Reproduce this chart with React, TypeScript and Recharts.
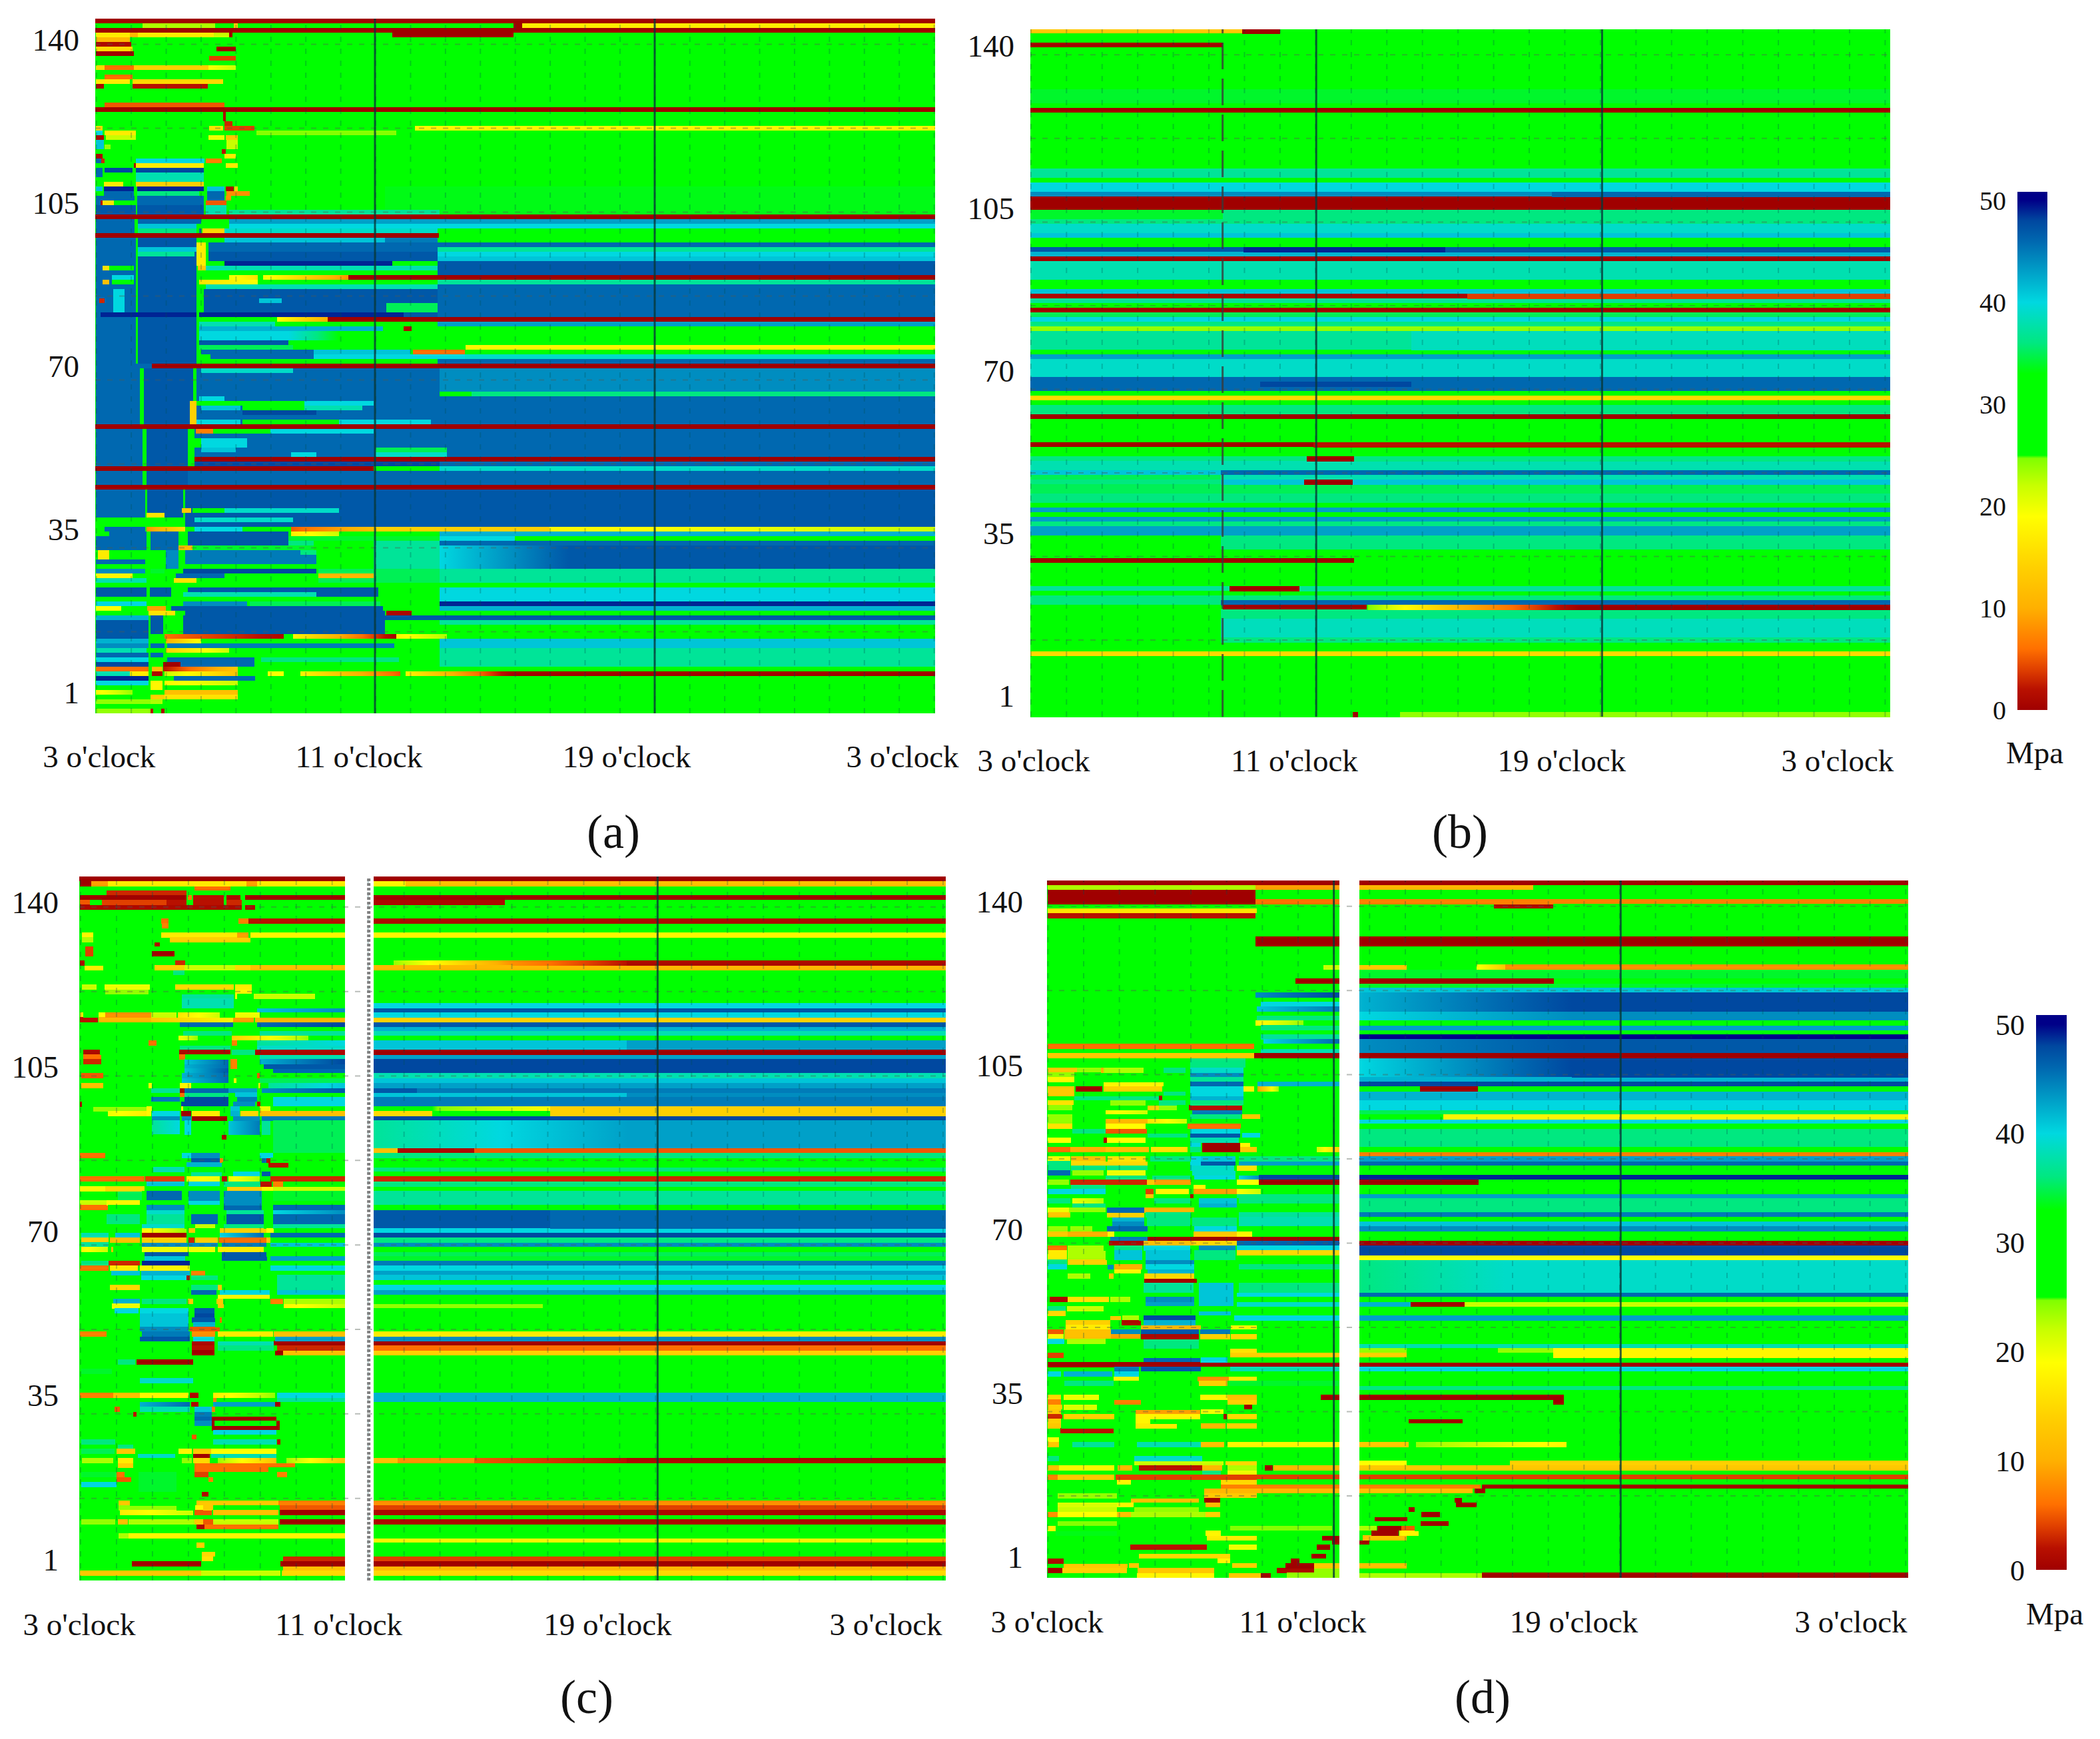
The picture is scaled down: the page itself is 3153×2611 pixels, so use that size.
import { Bar, BarChart, ReferenceLine, XAxis, YAxis } from "recharts";

// one strip: first row (from top), last row, circumferential start, end, stress in MPa, optional stress at the end
type Strip = [number, number, number, number, number, number?];

const FONT = "'Liberation Serif', serif";
const yTickValues = [0, 35, 70, 105, 140];
const clockLabels = ["3 o'clock", "11 o'clock", "19 o'clock", "3 o'clock"];
const barTicks = [0, 10, 20, 30, 40, 50];

const colorStops: [number, string][] = [
  [0, "#a00000"], [2, "#b81000"], [4, "#e04000"], [6, "#ff7000"], [10, "#ffb000"], [14, "#ffd000"],
  [19, "#ffff00"], [22, "#c8ff00"], [24.7, "#80ff00"], [25, "#00ff00"], [33, "#00ff00"], [36, "#00e880"],
  [40, "#00d8e0"], [43, "#00a0c8"], [46, "#0068b0"], [48, "#0048a0"], [50, "#000088"],
];

const panelABands: Strip[] = [
  [0,148,38,3695,29],[0,0,38,3695,0],[1,1,1860,1897,0],[1,1,1897,3695,17],[2,2,38,3695,0],[3,3,1330,1860,0],
  [19,19,38,3695,0],[23,23,1430,3695,18],[24,24,740,1350,24.5],[36,41,1300,3695,33.5],[41,41,620,1537,37],
  [42,42,38,3695,0],[43,43,620,3695,43],[44,44,620,3695,40],[45,45,600,1530,39],[46,46,38,1535,0],
  [47,47,600,1300,41],[47,47,1300,1530,45],[48,48,530,3695,46],[49,49,530,1530,46],[49,49,1530,3695,37],
  [50,50,530,1530,47],[50,50,1530,3695,40],[51,51,530,1530,47],[51,51,1530,3695,41],[52,52,600,1330,49],
  [52,52,1330,1530,30],[52,54,1530,3695,47],[53,53,520,1530,38],[55,55,620,745,20,16],[55,55,770,1140,20,8],
  [55,55,1140,3695,0],[56,56,485,745,16,19],[56,56,1530,3695,37],[57,57,520,1530,38],[57,63,1530,3695,46],
  [58,63,510,1530,47],[60,60,750,850,41],[61,62,1305,1530,35],[63,63,60,1380,49],[64,64,320,470,37],
  [64,64,490,830,30],[64,64,830,1050,19,10],[64,64,1050,3695,0],[65,65,490,820,38],[65,65,1530,3695,43],
  [66,66,490,1290,42],[66,66,1380,1415,1],[67,68,490,880,40],[67,68,880,1100,40,33],[69,69,490,880,47],
  [70,70,490,900,35],[70,70,1649,3695,18],[71,71,500,990,46],[71,71,990,1410,41],[71,71,1420,1647,6],
  [72,72,540,990,46],[72,72,990,1647,40],[72,72,1647,3695,39],[73,73,1530,3695,46],[74,74,285,3695,0],
  [75,79,480,1537,46],[75,75,500,900,39],[75,79,1537,3695,44],[80,80,480,1537,46],[80,80,1677,3695,36],
  [81,86,480,3695,46],[81,81,490,600,40],[82,82,480,950,30],[82,82,950,1250,40],[83,83,500,670,41],
  [83,83,680,950,30],[83,83,950,1200,38],[84,84,680,1000,48],[86,86,480,670,40],[86,86,680,1100,31],
  [86,86,1100,1500,40],[87,87,38,3695,0],[88,93,470,3695,46],[88,88,475,550,7],[88,88,550,800,30],
  [88,88,800,1250,40],[90,91,470,500,30],[90,91,500,700,40],[92,92,500,650,41],[92,92,1260,1568,35],
  [93,93,890,1000,40],[93,93,1260,1568,39],[94,94,470,3695,0],[95,95,470,1537,48],[95,95,1537,3695,46],
  [96,96,38,1250,0],[96,96,1260,1537,30],[96,96,1537,3695,39],[97,99,430,3695,46],[100,100,38,3695,0],
  [101,108,430,3695,47],[105,105,460,600,30],[105,105,600,1100,39],[107,107,470,900,39],
  [109,109,440,470,30],[109,109,470,680,40],[109,109,690,890,32],[109,109,890,1250,5,12],[109,109,1250,2015,14],
  [109,109,2015,3695,18,22],[110,110,440,880,47],[110,110,890,1100,17,22],[110,110,1100,1537,30],
  [110,110,1537,3695,42],[111,111,440,880,47],[111,111,880,1537,34],[111,111,1537,1865,40],
  [112,112,440,880,47],[112,112,880,990,36],[112,117,1250,1537,37],[112,112,1537,3695,46],
  [113,117,1537,2100,40,47],[113,117,2100,3695,47],[113,113,400,460,11],[113,113,470,990,34],
  [114,116,430,1000,45],[114,114,930,1000,36],[118,118,420,1000,48],[118,120,1010,1537,35],[118,120,1537,3695,37],
  [119,119,390,600,46],[119,119,1010,1250,11],[120,120,380,480,16],[121,121,1537,3695,31],[122,124,1537,3695,40],
  [122,123,440,1270,47],[123,123,420,1000,38],[125,125,420,700,44],[125,125,710,1280,35],[125,125,1537,3695,49],
  [126,126,370,1290,47],[126,126,1537,3695,42],[127,127,430,1300,47],[127,127,1305,1415,1],[127,127,1537,3695,32],
  [128,128,420,3695,47],[129,131,420,1300,47],[129,129,1537,3695,37],[130,130,1305,1537,31],
  [132,132,340,860,6,1],[132,132,900,1350,18,0],[132,132,1350,1568,18,23],[133,133,345,500,10,20],
  [133,134,1537,3695,41],[134,134,350,1340,45],[135,135,345,620,14,22],[135,138,1537,3695,37],
  [137,137,350,730,46],[137,137,760,1360,36],[138,138,410,730,46],[139,139,335,660,2,13],
  [140,140,340,660,22,12],[140,140,790,860,19],[140,140,930,1365,18,5],[140,140,1390,1860,18,0],[140,140,1860,3695,0],
  [141,141,380,735,46],[142,142,340,660,18,22],[144,144,340,660,12],[145,145,280,660,16],
];

const panelALeft: Strip[] = [
  [1,1,245,560,23],[1,1,640,660,14],[3,3,40,555,17],[3,3,190,225,11],[3,3,555,620,22],[3,3,620,635,0],
  [4,4,40,190,11],[5,5,40,195,1],[6,6,40,200,15],[6,6,565,650,0],[7,7,40,205,0],[8,8,535,650,4],
  [10,10,40,80,15],[10,10,80,205,6],[10,10,205,530,14],[10,10,530,650,19,22],[12,12,80,200,6],
  [13,13,40,190,17],[13,13,200,595,15],[14,14,40,75,1],[14,14,200,528,2],[18,18,80,600,5],
  [20,21,594,605,1],[22,22,600,635,3],[23,23,40,70,15],[23,23,535,595,16],[23,23,600,730,4],
  [24,24,40,70,40],[24,24,80,215,17],[25,25,40,75,1],[25,25,85,215,22],[25,25,530,600,20],[25,25,605,660,13],
  [26,27,40,75,41],[26,27,610,660,22],[27,27,80,105,24],[28,28,590,605,2],[29,29,40,70,1],[29,29,600,650,17],
  [30,30,40,65,46],[30,30,65,80,3],[30,30,215,515,40],[30,30,520,590,7],[31,31,215,510,17],[31,31,205,215,1],
  [31,31,605,660,17],[32,32,80,200,48],[32,32,215,510,48],[32,33,40,70,46],[33,34,215,510,38],[34,34,80,205,31],
  [35,35,75,160,17],[35,35,215,510,14],[36,36,40,70,41],[36,36,75,205,49],[36,36,220,510,49],[36,36,525,600,41],
  [36,36,605,640,1],[36,36,645,660,15],[37,37,75,205,46],[37,37,220,490,36],[37,37,525,600,46],[37,37,610,710,8],
  [38,38,40,210,46],[38,38,220,510,46],[38,38,525,600,46],[38,38,605,630,8],[39,39,40,70,46],[39,39,60,70,2],
  [39,39,70,120,16],[39,39,220,510,46],[39,39,520,610,5],[40,41,40,215,47],[40,41,220,510,47],[40,41,520,610,38],
  [43,45,40,210,46],[43,43,225,500,46],[43,43,530,600,30],[44,44,225,480,41],[45,45,225,480,36],[45,45,490,500,46],
  [45,45,505,600,15],
  [47,73,40,215,46],[47,73,225,480,47],[48,52,480,520,17],[49,49,225,480,41],[50,50,225,470,37],
  [53,53,70,100,16],[53,53,100,205,30],[53,53,485,520,13],[55,55,110,205,40],[56,56,110,205,30],[56,56,70,100,12],
  [58,63,115,165,40],[60,60,55,80,3],[55,63,480,490,25],[63,63,60,480,49],
  [74,74,40,285,46],[75,87,40,232,46],[75,87,250,465,47],[74,74,285,470,0],[87,87,38,470,0],
  [88,99,40,245,46],[88,99,262,440,47],[82,86,450,478,14],[94,94,40,245,46],[94,94,262,440,47],[96,96,38,470,0],
  [100,100,38,470,0],[101,106,40,255,46],[101,106,265,420,47],[105,105,415,455,13],[106,106,260,340,16],
  [107,107,280,400,30],[108,108,40,160,32],[108,108,275,400,30],[109,109,40,80,30],[109,109,80,255,46],
  [109,109,260,430,8,16],[110,112,100,260,46],[110,110,40,80,30],[110,113,280,400,46],[111,112,40,100,46],
  [113,113,40,260,46],[113,113,400,460,11],[114,115,50,100,17],[114,117,100,255,30],[114,117,280,340,32],
  [114,117,345,400,44],[116,116,40,255,46],[118,118,40,255,44],[118,118,280,340,34],[119,119,40,200,18],[119,119,200,260,30],
  [120,120,40,260,38],[122,123,40,260,47],[122,123,275,370,47],[125,125,40,260,40],[126,126,40,150,19],[126,126,265,345,9],
  [127,127,270,385,16],[128,128,40,270,42],[128,131,280,335,47],[129,131,40,270,47],[132,132,40,270,47],[132,132,280,340,30],
  [133,133,40,270,42],[134,134,40,270,44],[134,134,280,340,46],[135,135,40,260,38],[136,136,40,270,46],[136,136,280,335,46],
  [137,137,40,270,40],[137,137,280,335,32],[138,138,40,270,48],[138,138,335,410,0],[139,139,40,270,6],[139,139,285,330,12],
  [140,140,40,190,38],[140,140,190,270,17],[140,140,285,330,1],[141,141,40,270,49],[142,142,40,270,40],[142,143,280,330,18],
  [144,144,40,200,18,24],[145,145,280,340,14],[146,146,40,280,24],[146,146,280,330,23],[148,148,40,280,24],[148,148,280,290,2],[148,148,325,340,1],
];

const panelBBands: Strip[] = [
  [0,147,20,1554,29],[0,0,20,398,13],[0,0,398,465,0],[3,3,20,363,0],[13,15,20,1554,34],[17,17,20,1554,0],
  [30,31,20,1554,37],[32,32,20,1554,33],[33,34,20,1554,40],[35,35,20,1554,44],[35,35,950,1554,46],[36,38,20,1554,0],
  [39,40,20,363,34],[39,40,363,1554,36],[41,41,20,1554,36],[42,43,20,1554,39],[44,44,20,1554,41],[45,45,20,1554,33],
  [47,47,20,1554,47],[47,47,400,760,49],[48,48,20,1554,42],[49,49,20,1554,0],[50,53,20,1554,38],[54,55,20,1554,32],
  [56,56,20,1554,41],[57,57,20,800,1],[57,57,800,1554,4],[58,58,20,1554,37],[59,59,20,1554,31],[60,60,20,1554,0],
  [61,61,20,1554,35],[62,62,20,1554,40],[63,63,20,1554,36],[64,64,20,1554,24],[65,68,20,700,37],[65,68,700,1554,38.5],
  [69,69,20,1554,33],[70,70,20,1554,43],[71,74,20,1554,39],[75,77,20,1554,46],[76,76,430,700,48],[78,78,20,1554,30],
  [79,79,20,1554,15],[80,80,20,1554,33],[81,82,20,1554,36],[83,83,20,1554,0],[85,88,20,1554,31],[89,89,20,525,0],
  [89,89,525,1554,2],[90,91,20,1554,30],[92,92,20,1554,36],[92,92,513,598,0],[93,94,20,1554,38],[95,95,20,360,41],
  [95,95,360,1554,46],[96,96,20,360,35],[96,96,360,1554,38],[97,97,20,360,36],[97,97,360,1554,41],[97,97,508,595,0],
  [98,99,20,1554,35],[100,101,20,1554,36],[103,103,20,1554,43],[104,104,20,1554,33],[105,105,20,1554,43],[106,106,20,1554,36],
  [107,108,20,1554,43],[109,111,20,360,33],[109,111,360,1554,36],[112,112,20,1554,33],[114,114,20,598,0],[116,117,20,1554,33],
  [120,120,20,1554,37],[120,120,375,500,0],[122,122,20,1554,36],[123,123,20,360,36],[123,123,360,1554,46],
  [124,124,20,363,30],[124,124,363,620,0],[124,124,620,700,25,18],[124,124,700,800,18,10],[124,124,800,1000,10,0],[124,124,1000,1554,0],
  [125,132,20,360,33],[125,132,360,1554,36],[127,130,360,1554,38.5],[132,132,20,1554,32],[134,134,20,1554,15],
  [147,147,680,1554,24],[147,147,595,605,0],
];

const panelCBands: Strip[] = [
  [0,149,27,3933,29],[0,0,1353,3933,0],[1,1,1353,1497,18],[1,1,1497,3933,12],[4,4,1353,3933,0],[5,5,1353,1944,1],
  [9,9,1353,3933,1],[12,12,1353,3933,18],[18,18,1445,1634,24,18],[18,18,1634,1979,18,8],[18,18,1979,2495,8,2],[18,18,2495,3933,1],
  [19,19,1353,3933,11],[21,21,1353,3933,33],[27,27,1353,3933,40],[28,28,1353,3933,47],[29,29,1353,3933,40],[30,30,1353,3933,14],
  [31,31,1353,3933,47],[32,32,1353,3933,42],[33,33,1353,3933,38],[34,34,1353,3933,31],[35,36,1353,2495,41],[35,36,2495,3933,43],
  [37,37,1353,3933,0],[38,38,1353,3933,43],[39,41,1353,3933,48],[42,42,1353,3933,38],[43,43,1353,3933,41],[44,44,1353,3933,43],
  [45,45,1353,3933,45],[45,45,1353,1548,47],[46,46,1353,2495,41],[46,46,2495,3933,44],[47,48,1353,3933,45],[49,49,1617,2151,25,19],
  [49,50,2151,3933,14],[50,50,1353,1617,15],[51,51,1353,3933,48],[52,57,1353,2500,37,43],[52,57,2500,3933,43],
  [58,58,1353,1462,12],[58,58,1462,1807,1],[58,58,1807,3933,5],[59,59,1353,3933,36],[60,61,1353,3933,33],[62,62,1353,3933,36],
  [64,64,1353,3933,3],[65,65,1353,3933,36],[67,69,1353,3933,37],[71,74,1353,3933,46],[71,74,1353,2151,47],[75,75,1353,3933,40],
  [76,76,1353,3933,48],[77,77,1353,3933,36],[78,78,1353,3933,44],[80,80,1353,3933,35],[81,81,1353,3933,34],[82,82,1353,3933,45],
  [83,83,1353,3933,40],[84,84,1353,3933,43],[85,85,1353,3933,41],[87,87,1353,3933,40],[88,88,1353,3933,43],[89,96,1353,3933,31],
  [91,91,1353,2117,24],[97,97,1353,3933,17],[98,98,1353,3933,44],[99,99,1353,3933,0],[100,100,1353,3933,6],[101,101,1353,3933,14],
  [110,111,1353,3933,42],[124,124,1353,1462,12],[124,124,1462,1807,8],[124,124,1807,2495,5,2],[124,124,2495,3933,1],
  [133,133,1353,3933,8],[134,134,1353,3933,4],[135,135,1353,3933,1],[137,137,1353,3933,1],[141,141,1353,3933,18],
  [145,145,1353,3933,4],[146,146,1353,3933,0],[147,147,1353,3933,11],[148,148,1353,3933,15],
];

const panelCLeft: Strip[] = [
  [0,0,27,1224,0],[1,1,30,80,0],[1,1,80,155,9],[1,1,155,1224,17],[1,1,780,830,9],[2,2,545,710,6],[3,3,150,510,3],
  [4,4,30,510,0],[4,4,515,535,7],[4,4,540,680,2],[4,4,690,755,1],[4,4,775,1224,0],[5,5,30,75,5],[5,5,130,420,4],[5,5,420,510,2],
  [5,5,540,680,2],[5,5,690,760,3],[6,6,30,760,1],[6,6,775,820,1],[9,9,395,430,6],[9,9,745,790,7],[9,9,790,1224,2],[10,10,400,430,7],
  [12,12,40,90,18],[12,12,395,740,17],[12,12,740,790,9],[12,12,800,1224,18],[13,13,40,90,23],[13,13,435,800,14],[14,14,365,390,1],
  [15,16,55,90,4],[16,16,355,455,0],[18,18,30,50,1],[18,18,460,505,3],[19,19,50,135,17],[19,19,365,500,14],[19,19,500,730,22],
  [19,19,730,800,15],[19,19,800,1224,12],[20,20,450,500,36],[23,23,40,105,22],[23,23,140,345,20],[23,23,460,725,15],[23,23,730,805,17],
  [24,24,145,340,24],[24,24,730,805,18],[25,25,490,725,37],[25,25,730,740,18],[25,25,815,1090,22],[26,27,490,725,38],[28,28,830,1224,41,44],
  [29,29,30,45,17],[29,29,115,145,19],[29,29,145,350,8],[29,29,350,465,22],[29,29,470,660,16,22],[29,29,730,840,20],
  [30,30,30,110,2],[30,30,115,350,11],[30,30,350,720,13,18],[30,30,720,815,9],[30,30,820,1224,11],[31,31,480,720,46],[31,31,830,1224,46,48],
  [33,33,495,715,36],[33,33,840,1224,37],[34,34,475,560,19,24],[34,34,715,1060,14,24],[35,35,340,375,6],[35,35,715,740,7],[35,35,830,1224,37,40],
  [36,36,480,710,36],[36,36,830,1224,39],[37,37,45,120,1],[37,37,478,708,1],[37,37,715,820,36],[37,37,820,1224,1],[38,38,45,125,6],[38,38,478,505,6],
  [38,38,840,1224,38],[39,39,45,125,3],[39,39,500,700,41,46],[39,39,710,740,7],[39,39,840,1224,42,48],[40,40,500,700,42,46],[40,40,710,740,7],
  [40,40,860,1224,47],[41,41,500,700,41,47],[41,41,900,1224,46],[42,42,35,135,5],[42,42,490,700,42,46],[42,42,830,850,5],[42,42,840,1224,33],
  [43,43,490,700,41,46],[43,43,725,735,18],[43,43,840,1224,35],[44,44,35,135,12],[44,44,340,355,18],[44,44,480,530,18],[44,44,835,845,18],
  [44,44,880,1224,37,41],[45,45,350,480,37],[45,45,480,500,1],[45,45,500,700,46],[45,45,700,830,43],[45,45,850,1224,44,47],
  [46,46,480,500,6],[46,46,500,700,36],[46,46,730,830,41],[47,47,350,480,45],[47,47,500,700,48],[47,47,740,830,45],[47,47,900,1224,40],
  [48,48,30,40,1],[48,48,485,700,48],[48,48,720,820,44],[48,48,830,845,2],[48,48,900,1224,40],[49,49,90,330,24],[49,49,330,355,18],
  [49,49,485,495,18],[49,49,710,750,41],[49,49,840,890,20],[50,50,155,330,20,17],[50,50,330,350,18],[50,50,355,480,40],[50,50,485,530,0],
  [50,50,535,660,17],[50,50,710,750,42],[50,50,755,835,15],[50,50,840,1224,12],[51,51,355,480,44],[51,51,490,530,44],[51,51,535,695,0],
  [51,51,720,840,44],[51,51,850,1224,45],[52,54,355,480,37,40],[52,54,500,530,40],[52,54,700,840,41,45],[52,54,850,890,37],[52,58,900,1224,35],
  [55,55,670,690,1],[55,58,360,490,33],[59,59,30,145,6],[59,59,490,530,40],[59,59,530,660,44],[59,59,840,900,40],[60,60,530,660,47],
  [60,60,660,675,7],[60,60,850,870,46],[60,60,870,890,2],[61,61,510,670,42],[61,61,880,970,2],[62,62,360,500,38],[63,63,530,670,37],
  [63,63,720,840,40],[63,63,850,890,47],[64,64,30,320,6],[64,64,325,500,4],[64,64,510,660,18,20],[64,64,670,695,2],[64,64,700,840,18,23],
  [64,64,890,1224,3],[65,65,330,500,41],[65,65,520,660,40],[65,65,680,845,36],[65,65,845,895,2],[65,65,900,945,7],[66,66,30,145,18],
  [66,66,145,320,15],[66,66,695,850,14],[66,66,850,900,18],[66,66,900,1224,22],[67,68,330,490,46],[67,68,520,660,44],[67,68,680,850,44],
  [67,68,200,310,35],[67,68,900,1224,34],[69,69,30,150,22],[69,69,150,300,18],[69,69,520,660,40],[69,69,680,850,44],[70,70,30,155,6],
  [70,70,330,500,44],[70,70,680,850,46],[70,70,900,1224,46],[71,71,330,500,39],[71,71,690,860,37],[71,71,900,1224,40,44],
  [72,73,150,300,36],[72,73,330,500,37],[72,73,530,650,46],[72,73,690,860,47],[72,73,900,1224,46],[74,74,310,500,39],[74,74,550,640,22],
  [74,74,680,860,36],[74,74,900,1224,37],[75,75,310,510,18,24],[75,75,520,550,13],[75,75,660,870,14],[75,75,870,905,19],
  [76,76,35,160,38],[76,76,190,300,41],[76,76,310,510,0],[76,76,660,860,40,46],[76,76,890,1224,46],[77,77,35,160,14],[77,77,165,300,12],
  [77,77,310,510,14],[77,77,520,545,3],[77,77,550,650,14],[77,77,655,870,6],[77,77,870,890,13],[78,78,35,160,37],[78,78,310,515,44],
  [78,78,520,650,44],[78,78,670,870,45],[78,78,890,1224,41],[79,79,35,155,18,22],[79,79,170,180,12],[79,79,310,515,20],[79,79,520,640,20],
  [79,79,650,860,17],[80,80,320,520,47],[80,80,670,870,47],[81,81,320,505,41],[81,81,670,875,47],[81,81,890,1224,43],[82,82,35,160,36],
  [82,82,160,300,3],[82,82,310,525,49],[83,83,30,160,6],[83,83,165,290,17],[83,83,300,525,18],[83,83,890,1224,40],[84,84,170,300,41],
  [84,84,305,525,42],[84,84,530,595,7],[85,85,305,510,40],[85,85,510,525,2],[85,85,530,650,36],[85,85,1075,1125,1],[85,87,920,1224,37],
  [87,87,165,300,15],[87,87,530,650,36],[87,87,650,670,13],[88,88,530,645,46],[88,88,660,885,40],[88,88,920,1224,41],[89,89,650,885,18],
  [90,90,180,300,42],[90,90,310,510,36],[90,90,515,540,13],[90,90,645,675,13],[90,90,890,945,7],[90,90,950,1224,23],[91,91,175,300,20],
  [91,91,950,1224,18,22],[91,91,650,680,13],[92,92,185,295,40],[92,92,300,520,40],[92,92,545,635,47],[93,93,300,520,41],[93,93,545,635,48],
  [94,94,300,520,41],[94,94,535,640,47],[94,94,660,670,6],[95,95,300,520,41],[95,95,540,640,42],[96,96,300,520,44],[96,96,525,660,5],
  [97,97,30,150,7],[97,97,310,525,45],[97,97,535,640,8],[97,97,650,900,17],[97,97,905,1224,12],[98,98,300,525,47],[98,98,540,635,40],
  [98,98,910,1224,43],[99,99,535,635,1],[99,99,650,905,38],[99,99,905,1224,0],[100,100,535,635,2],[100,100,650,905,36],[100,100,920,1224,3],
  [101,101,535,635,0],[101,101,910,945,0],[101,101,945,1224,12],[103,103,200,280,36],[103,103,285,540,0],[105,105,35,175,34],[107,107,300,540,39],
  [110,110,30,180,7],[110,110,180,300,12],[110,110,300,520,18],[110,110,525,565,1],[110,110,630,910,17,24],[110,110,920,1224,40],
  [111,111,630,645,7],[111,111,920,1224,37],[112,112,300,525,42,46],[112,112,530,565,1],[112,112,630,910,43],[112,112,910,935,0],
  [113,113,185,210,5],[113,113,300,525,38],[113,113,545,625,41],[113,113,625,640,7],[114,114,545,625,45],[114,114,270,285,2],
  [115,115,625,915,0],[115,115,545,625,46],[116,116,545,625,44],[116,116,625,635,0],[116,116,915,930,0],[117,117,625,930,0],
  [118,118,630,915,40],[119,119,535,555,5],[120,120,35,190,36],[120,120,300,470,33],[120,120,630,915,38],[120,120,920,935,2],[121,121,200,270,36],
  [122,122,35,185,35],[122,122,195,280,13],[122,122,475,535,18],[122,122,540,620,13],[122,122,620,915,19],[123,123,290,460,39],[123,123,540,615,0],
  [123,123,620,915,38],[124,124,40,180,23],[124,124,200,270,17],[124,124,490,535,24],[124,124,540,615,15],[124,124,650,915,24,12],[124,124,960,1224,24,12],
  [125,125,200,270,14],[125,125,545,1000,6],[126,126,295,465,33],[126,126,545,880,6],[127,127,545,610,4],[127,127,920,965,7],[127,127,35,195,34],
  [127,127,195,230,6],[127,130,295,465,34],[128,128,195,260,5],[128,128,610,630,7],[129,129,35,195,40],[131,131,580,610,1],
  [133,133,205,255,13],[133,133,555,925,13],[133,133,925,1224,7],[134,134,205,465,24],[134,134,550,585,18],[134,134,585,630,13],[134,134,930,1224,5],
  [135,135,210,540,17,22],[135,135,545,625,5],[135,135,630,925,12],[135,135,930,1224,0],[137,137,35,190,24],[137,137,200,245,12],[137,137,250,545,23],
  [137,137,545,585,13],[137,137,585,630,5],[137,137,630,925,22],[137,137,932,1224,0],[138,138,555,590,1],[138,138,590,925,6],[140,140,205,250,23],
  [140,140,250,1224,18],[142,142,555,590,14],[144,144,580,640,15],[145,145,580,630,16],[145,145,945,1224,3],[146,146,265,575,0],[146,146,935,1224,0],
  [147,147,945,1224,12],[148,148,30,575,13],[148,148,575,935,22],[148,148,940,1224,15],[0,149,1224,1353,-1],
];

const panelDBands: Strip[] = [
  [0,148,36,3915,29],[0,0,1443,3915,0],[1,1,1443,2225,11],[1,1,2225,3915,33],[4,4,1443,3915,7],[5,5,2049,2315,1],[12,13,1443,3915,0],
  [18,18,1443,1657,13],[18,18,1970,2100,20,13],[18,18,2100,3915,8],[19,20,1443,3915,34],[21,21,1443,2319,0],[22,22,1443,3915,34],[23,23,1443,3915,41],
  [24,29,1443,2400,42,48],[24,29,2400,3915,48],[28,29,1443,2400,40,44],[28,29,2400,3915,44],[30,30,1443,3915,30],[31,31,1443,3915,43],[32,32,1443,3915,33],[33,33,1443,3915,50],
  [34,36,1443,2400,44,47],[34,36,2400,3915,47],[37,37,1443,3915,0],[38,41,1443,2400,40,48],[38,41,2400,3915,48],[42,42,1443,3915,42],[43,43,1443,3915,48],
  [44,44,1715,1978,0],[45,46,1443,3915,42],[47,48,1443,3915,40],[49,49,1443,3915,35],[50,50,1820,3915,18],[51,51,1443,3915,40],[53,56,1443,3915,36],
  [58,58,1443,3915,7],[59,59,1443,3915,43],[60,60,1443,3915,46],[61,62,1443,3915,33],[63,63,1443,3915,49],[64,64,1443,1981,0],[67,67,1443,3915,43],
  [68,70,1443,3915,36],[71,71,1443,3915,45],[73,73,1443,3915,41],[74,74,1443,3915,44],[77,77,1443,3915,0],[78,79,1443,3915,48],[80,80,1443,3915,19],
  [81,87,1443,2100,36,39],[81,87,2100,3915,39],[88,88,1443,3915,46],[89,89,1443,3915,31],[90,90,1443,1673,42],[90,90,1673,1917,0],[90,90,1917,3915,22],
  [93,93,1443,3915,43],[96,96,1443,3915,33],[99,99,1443,3915,38],[100,101,2315,3915,18],[100,100,1443,1657,24],[100,100,2068,2315,24],[101,101,1443,1657,14],
  [103,103,1443,3915,0],[104,104,1443,3915,40],[108,108,1443,3915,36],[110,110,1443,2315,0],[110,111,2315,2365,0],[115,115,1665,1909,0],[119,119,1443,3915,33],
  [120,120,1443,1665,13],[120,120,1698,2376,24,18],[124,124,1443,1657,19],[124,124,2120,3915,14],[125,125,1443,3915,13],[127,127,1443,3915,4],
  [129,129,1994,3915,0],[129,129,1443,1989,7],[130,130,1443,1953,12],[130,130,1961,2011,0],[132,132,1871,1904,0],[133,133,1879,1970,0],[134,134,1665,1693,0],
  [135,135,1723,1805,0],[136,136,1512,1660,0],[137,137,1719,1846,0],[138,138,1443,1522,23],[138,138,1525,1632,0],[138,138,1632,1693,5],[139,139,1496,1621,0],
  [139,139,1624,1710,18],[140,140,1459,1657,12],[141,141,1443,1489,0],[146,146,1443,1657,12],[148,148,1443,1994,23],[148,148,1994,3915,0],
];

const panelDLeft: Strip[] = [
  [0,0,36,1352,0],[1,1,38,975,23],[1,1,975,1352,9],[2,4,38,975,0],[4,4,975,1352,6],[6,6,38,980,16],[7,7,38,975,2],[12,13,975,1352,0],[15,15,990,1352,33],
  [17,17,38,975,33],[18,18,1280,1352,22],[21,21,1155,1352,0],[24,24,38,975,33],[24,24,975,1352,44,48],[26,26,1000,1352,40],[27,27,980,1352,41,45],[29,29,980,1352,36],
  [30,30,975,1190,18,24],[31,31,1000,1352,36],[33,33,1000,1352,37],[34,34,1010,1352,40,46],[35,35,38,970,6],[36,36,1000,1352,38],[37,37,38,970,13],[37,37,970,1352,0],
  [38,39,680,930,36],[40,40,38,170,13],[40,40,170,280,24],[40,40,280,290,10],[40,40,290,470,23],[40,40,560,660,36],[40,40,680,920,39],[41,41,38,160,24],[41,41,680,920,44],
  [42,42,38,160,18],[42,42,680,920,37],[43,43,290,560,18],[43,43,680,920,46],[43,43,985,1352,42],[44,44,38,160,13],[44,44,165,285,0],[44,44,290,555,14],[44,44,680,920,40],
  [44,44,920,970,18],[44,44,985,1080,9,24],[45,45,38,160,13],[45,45,560,660,36],[45,45,680,920,40],[46,46,160,540,36],[46,46,540,555,1],[46,46,680,920,42],[47,47,38,155,16],
  [47,47,320,480,24],[47,47,540,660,36],[47,47,680,920,36],[48,48,38,150,24],[48,48,490,540,14],[48,48,540,620,24],[48,48,675,915,2],[49,49,300,490,18,22],[49,49,690,915,45],
  [50,50,38,150,24],[50,50,915,995,13],[50,50,680,910,36],[51,51,38,150,24],[51,51,300,490,11],[51,51,490,665,16,22],[52,52,38,150,16],[52,52,300,480,19],[52,52,670,910,6],
  [53,53,300,485,5],[53,53,680,905,40],[53,53,150,300,36],[54,54,680,905,47],[54,54,915,995,40],[54,54,490,670,36],[55,55,38,145,19],[55,55,290,305,1],[55,55,305,480,19],
  [55,55,680,900,38],[56,56,680,730,40],[56,57,735,905,0],[56,56,905,950,18],[57,57,38,140,6],[57,57,140,300,10],[57,57,300,495,12],[57,57,505,670,16],[57,57,680,730,36],
  [57,57,905,980,13],[57,57,1250,1352,22,14],[59,59,38,140,18],[59,59,145,300,12],[59,59,310,480,16],[59,59,500,680,36],[59,59,685,730,40],[59,59,730,885,41],[59,59,900,1352,36],
  [60,60,38,140,36],[60,60,145,490,15],[60,60,680,730,40],[60,60,730,885,47],[60,60,900,1352,43],[61,61,38,140,36],[61,61,145,300,36],[61,61,305,490,36],[61,61,680,880,39],
  [61,61,890,980,16],[62,62,38,140,46],[62,62,150,290,24],[62,62,305,480,20],[62,62,690,885,39],[63,63,300,485,36],[63,63,510,680,36],[63,63,700,885,40],[63,63,900,990,40,44],
  [63,63,990,1352,48],[64,64,38,135,24],[64,64,140,485,3],[64,64,485,520,13],[64,64,520,685,9],[64,64,890,990,19],[64,64,990,1352,0],[65,65,145,300,36],[65,65,695,750,18],
  [66,66,38,145,40],[66,66,145,300,40],[66,66,480,515,4],[66,66,525,675,18],[66,66,695,890,9],[66,66,890,1000,19,22],[67,67,480,515,13],[67,67,680,695,1],[67,67,890,1352,36],
  [68,68,38,140,36],[68,68,150,290,20,23],[68,68,520,680,36],[68,68,720,890,41],[68,68,900,1352,36],[69,69,150,300,36],[69,69,720,890,42],[70,70,38,135,20],[70,70,135,300,24],
  [70,70,305,475,46],[70,70,475,700,11],[71,71,38,140,13],[71,71,305,475,14],[71,71,480,685,36],[71,71,900,1352,37],[72,72,330,475,42],[72,72,485,680,36],[72,72,690,890,36],
  [72,72,900,1352,38],[73,73,330,475,44],[73,73,485,680,36],[73,73,690,890,36],[73,73,900,1352,38],[74,74,38,130,24],[74,74,140,240,24],[74,74,305,490,46],[74,74,700,890,40],
  [75,75,38,130,13],[75,75,130,310,10],[75,75,310,340,18],[75,75,695,890,13],[75,75,890,960,18],[76,76,320,490,45],[76,76,490,1352,0],[77,77,315,470,1],[77,77,470,695,12],
  [77,77,695,890,15],[77,77,890,1352,46,47],[78,78,38,125,6],[78,78,130,290,23],[78,78,340,465,36],[78,78,470,680,40],[78,78,720,885,44],[78,78,890,1352,40],[79,80,38,125,17],
  [79,80,130,300,23],[79,80,340,465,41],[79,80,480,680,41],[79,80,700,885,36],[79,79,890,1352,15],[81,81,38,125,36],[81,81,130,305,14],[81,81,480,700,44],[82,82,38,125,40],
  [82,82,310,335,44],[82,82,340,465,10],[82,82,480,700,40],[82,82,900,1352,36],[83,83,340,460,18],[83,83,490,700,42],[84,84,130,230,23],[84,84,315,335,13],[84,84,475,700,15],
  [85,85,475,710,0],[86,90,720,875,41],[86,87,470,695,37],[86,88,900,1352,36],[88,88,890,1352,40],[89,89,48,128,1],[89,89,130,315,16],[89,89,320,410,23],[89,89,480,700,44],
  [90,90,480,700,43],[90,90,890,1352,39],[91,91,38,120,36],[91,91,125,290,22],[92,92,38,120,15],[92,92,720,865,41],[93,93,320,370,13],[93,93,375,450,23],[93,93,470,705,48],
  [93,93,880,1352,40],[94,94,372,458,1],[94,94,470,705,42],[94,94,120,320,14],[95,95,460,730,11],[95,95,120,320,17],[95,95,865,980,18],[96,96,38,110,5],[96,96,115,325,12],
  [96,96,325,455,44],[96,96,460,720,47],[96,96,725,860,45],[97,97,38,110,18],[97,97,115,325,12],[97,97,325,455,9],[97,97,460,720,1],[97,97,725,860,14],[97,97,865,980,15],
  [98,98,38,115,40],[98,98,125,300,23],[98,99,470,720,36],[100,100,860,980,16],[101,101,38,110,4],[101,101,860,1352,14],[102,102,470,725,46],[102,102,730,850,40],[103,103,38,1352,0],
  [104,104,340,450,45],[104,104,460,730,47],[104,104,860,1352,38],[105,105,38,100,40],[105,105,110,330,42],[105,105,340,450,40],[106,106,715,855,8],[106,106,855,980,17],
  [106,106,335,450,18],[107,107,720,850,14],[107,107,115,335,36],[107,107,855,1352,34],[110,110,38,100,15],[110,110,110,270,20],[110,110,725,850,18],[110,110,850,980,12],
  [110,110,1268,1352,0],[111,111,38,100,7],[111,111,340,460,7],[111,111,850,980,14],[112,112,38,105,14],[112,112,110,260,21],[112,112,925,960,0],[113,113,38,100,13],
  [113,113,435,725,9],[113,113,730,830,20],[114,114,38,105,3],[114,114,110,340,14],[114,114,435,725,18],[114,114,830,845,1],[114,114,850,980,15],[115,115,38,100,14],[115,115,435,500,18],
  [116,116,38,100,13],[116,116,435,620,17],[116,116,730,840,11],[116,116,845,980,14],[117,117,95,335,2],[119,119,38,90,19],[120,120,38,90,13],[120,120,440,730,38],[120,120,150,340,37],
  [120,120,730,835,12],[120,120,850,1352,18],[123,123,430,735,39],[123,123,38,90,36],[124,124,430,830,22],[124,124,840,980,15],[125,125,38,90,12],[125,125,90,340,18],[125,125,355,420,11],
  [125,125,450,735,2],[125,125,735,825,11],[125,125,850,980,23],[125,125,1018,1052,0],[125,125,1055,1352,11],[126,126,735,820,36],[126,126,850,980,20],[127,127,38,85,7],[127,127,85,340,13],
  [127,127,345,1352,4],[128,128,350,415,18],[128,128,820,980,15],[129,129,820,1352,7],[130,130,745,1352,11],[131,131,85,350,24],[131,131,745,980,13],[132,132,415,720,12],[132,132,745,815,0],
  [133,133,85,350,21],[133,133,350,425,18],[133,133,750,815,11],[134,134,85,350,22],[134,134,430,720,24],[135,135,40,85,8],[135,135,85,350,19],[135,135,352,415,12],[135,135,415,750,23],
  [135,135,750,815,14],[137,137,85,350,24.5],[138,138,38,75,18],[138,138,860,1320,24.5],[139,139,750,820,18],[139,139,75,350,33.5],[140,140,755,980,17],[140,140,1275,1352,0],[141,141,1320,1352,0],
  [142,142,410,755,2],[142,142,855,980,20],[142,142,1250,1310,0],[144,144,450,860,15],[144,144,1228,1292,0],[145,145,38,110,1],[145,145,805,860,18],[145,145,1135,1172,0],[146,146,110,400,13],
  [146,146,405,450,13],[146,146,870,980,14],[146,146,1110,1240,0],[146,146,1240,1352,13],[147,147,38,105,0],[147,147,105,395,14],[147,147,445,790,13],[147,147,1240,1352,24],[147,147,1070,1240,1],
  [148,148,440,790,18],[148,148,855,1000,13],[148,148,1000,1045,0],[148,148,1115,1352,24],[0,148,1352,1443,-1],
];

function colorOf(v: number) {
  if (v <= 0) return colorStops[0][1];
  for (let k = 1; k < colorStops.length; k++) {
    const [hi, hiColor] = colorStops[k];
    if (v <= hi) {
      const [lo, loColor] = colorStops[k - 1];
      const t = (v - lo) / (hi - lo);
      const mix = (a: number) => {
        const p = parseInt(loColor.slice(a, a + 2), 16);
        const q = parseInt(hiColor.slice(a, a + 2), 16);
        return Math.round(p + (q - p) * t).toString(16).padStart(2, "0");
      };
      return `#${mix(1)}${mix(3)}${mix(5)}`;
    }
  }
  return colorStops[colorStops.length - 1][1];
}

type Seg = { u0: number; u1: number; v0: number; v1: number };

function cut(s: Seg, a: number, b: number): Seg {
  const at = (u: number) => s.v0 + ((s.v1 - s.v0) * (u - s.u0)) / (s.u1 - s.u0);
  return { u0: a, u1: b, v0: at(a), v1: at(b) };
}

// later strips are painted over earlier ones, then each row becomes one stack of bars
function buildRows(rowCount: number, topRow: number, strips: Strip[]) {
  const rows: Seg[][] = Array.from({ length: rowCount }, () => []);
  for (const [a, b, u0, u1, v0, v1] of strips) {
    for (let i = a; i <= b && i < rowCount; i++) {
      const next: Seg[] = [];
      for (const s of rows[i]) {
        if (s.u1 <= u0 || s.u0 >= u1) next.push(s);
        else {
          if (s.u0 < u0) next.push(cut(s, s.u0, u0));
          if (s.u1 > u1) next.push(cut(s, u1, s.u1));
        }
      }
      next.push({ u0, u1, v0, v1: v1 ?? v0 });
      rows[i] = next.sort((p, q) => p.u0 - q.u0);
    }
  }
  const grads = new Map<string, [number, number]>();
  let maxSegs = 0;
  const table = rows.map((segs, i) => {
    const row: any = { row: topRow - i };
    let cursor = 0;
    let k = 0;
    for (const s of segs) {
      if (s.u0 > cursor) {
        row[`s${k}`] = s.u0 - cursor;
        row[`f${k}`] = "none";
        k++;
      }
      row[`s${k}`] = s.u1 - s.u0;
      if (s.v0 < 0) row[`f${k}`] = "none";
      else if (s.v0 === s.v1) row[`f${k}`] = colorOf(s.v0);
      else {
        const a = Math.round(s.v0 * 2) / 2;
        const b = Math.round(s.v1 * 2) / 2;
        const id = `g${a}_${b}`.replace(/\./g, "p");
        grads.set(id, [a, b]);
        row[`f${k}`] = a === b ? colorOf(a) : `url(#${id})`;
      }
      k++;
      cursor = s.u1;
    }
    maxSegs = Math.max(maxSegs, k);
    return row;
  });
  return { table, grads, maxSegs };
}

function gradientStops(a: number, b: number) {
  const lo = Math.min(a, b);
  const hi = Math.max(a, b);
  const inner = colorStops.map((c) => c[0]).filter((v) => v > lo && v < hi);
  return [a, ...(a < b ? inner : inner.reverse()), b].map((v) => ({
    offset: (v - a) / (b - a),
    color: colorOf(v),
  }));
}

type PanelProps = {
  id: string;
  strips: Strip[];
  rowCount: number;
  topRow: number;
  domain: [number, number];
  xTicks: number[];
  plot: { left: number; top: number; width: number; height: number };
  dark: number[];
  dashed?: number[];
  gridStart: number;
  gridStep: number;
  gridRow: number;
  xMargin: number;
  yMargin: number;
};

const M = { left: 140, right: 110, top: 20, bottom: 120 };

function HeatPanel(p: PanelProps) {
  const { table, grads, maxSegs } = buildRows(p.rowCount, p.topRow, p.strips);
  const gridX: number[] = [];
  for (let u = p.gridStart; u < p.domain[1]; u += p.gridStep) gridX.push(u);
  const gridY: number[] = [];
  for (let i = p.gridRow; i < p.rowCount; i += 18) gridY.push(p.topRow - i);
  const tickStyle = { fontSize: 47, fill: "#111", fontFamily: FONT };
  return (
    <div style={{ position: "absolute", left: p.plot.left - M.left, top: p.plot.top - M.top }}>
      <BarChart
        id={p.id}
        layout="vertical"
        width={p.plot.width + M.left + M.right}
        height={p.plot.height + M.top + M.bottom}
        data={table}
        margin={{ top: M.top, right: M.right, bottom: 0, left: 0 }}
        barCategoryGap={0}
        barGap={0}
      >
        <defs>
          {[...grads.entries()].map(([id, [a, b]]) => (
            <linearGradient key={id} id={id} x1="0" x2="1" y1="0" y2="0">
              {gradientStops(a, b).map((s, k) => (
                <stop key={k} offset={s.offset} stopColor={s.color} />
              ))}
            </linearGradient>
          ))}
        </defs>
        <XAxis
          type="number"
          domain={p.domain}
          allowDataOverflow
          ticks={p.xTicks}
          interval={0}
          height={M.bottom}
          tickSize={0}
          tickMargin={p.xMargin}
          axisLine={false}
          tick={tickStyle}
          tickFormatter={(_: number, i: number) => clockLabels[i]}
        />
        <YAxis
          type="category"
          dataKey="row"
          width={M.left}
          ticks={yTickValues}
          interval={0}
          tickSize={0}
          tickMargin={p.yMargin}
          axisLine={false}
          tick={tickStyle}
          tickFormatter={(v: number) => (v === 0 ? "1" : String(v))}
        />
        {Array.from({ length: maxSegs }, (_, k) => (
          <Bar
            key={k}
            dataKey={`s${k}`}
            stackId="h"
            isAnimationActive={false}
            shape={(b: any) => {
              if (!(b.width > 0) || b.payload[`f${k}`] === "none") return <g />;
              // snap to whole pixels so neighbouring rows leave no seam
              const y0 = Math.floor(b.y);
              const y1 = Math.ceil(b.y + b.height);
              return <rect x={b.x} y={y0} width={b.width} height={y1 - y0} fill={b.payload[`f${k}`]} shapeRendering="crispEdges" />;
            }}
          />
        ))}
        {gridX.map((u) => (
          <ReferenceLine key={`gx${u}`} x={u} stroke="#005050" strokeOpacity={0.28} strokeWidth={2} strokeDasharray="8 10" />
        ))}
        {gridY.map((r) => (
          <ReferenceLine key={`gy${r}`} y={r} stroke="#505a50" strokeOpacity={0.4} strokeWidth={2} strokeDasharray="8 10" />
        ))}
        {p.dark.map((u) => (
          <ReferenceLine key={`d${u}`} x={u} stroke="#083838" strokeOpacity={0.8} strokeWidth={3} />
        ))}
        {(p.dashed ?? []).map((u) =>
          p.id === "c" ? (
            <ReferenceLine key={`ds${u}`} x={u} stroke="#808080" strokeWidth={5} strokeDasharray="4 3" />
          ) : (
            <ReferenceLine key={`ds${u}`} x={u} stroke="#3a3a3a" strokeOpacity={0.8} strokeWidth={3} strokeDasharray="40 14" />
          ),
        )}
      </BarChart>
    </div>
  );
}

function ColorBar({ left, top, width, height, fontSize }: { left: number; top: number; width: number; height: number; fontSize: number }) {
  const id = `bar${top}`;
  const axisWidth = 90;
  return (
    <div style={{ position: "absolute", left: left - axisWidth, top: top - 30 }}>
      <BarChart
        width={width + axisWidth}
        height={height + 60}
        data={[{ name: "MPa", top: 50.85 }]}
        margin={{ top: 30, right: 0, bottom: 30, left: 0 }}
        barCategoryGap={0}
      >
        <defs>
          <linearGradient id={id} x1="0" x2="0" y1="1" y2="0">
            {colorStops.map(([v, c]) => (
              <stop key={v} offset={v / 50.85} stopColor={c} />
            ))}
          </linearGradient>
        </defs>
        <XAxis dataKey="name" hide />
        <YAxis
          type="number"
          domain={[0, 50.85]}
          ticks={barTicks}
          width={axisWidth}
          interval={0}
          tickSize={0}
          tickMargin={17}
          axisLine={false}
          tick={{ fontSize, fill: "#111", fontFamily: FONT }}
        />
        <Bar dataKey="top" fill={`url(#${id})`} isAnimationActive={false} />
      </BarChart>
    </div>
  );
}

function Label({ x, y, size, text }: { x: number; y: number; size: number; text: string }) {
  return (
    <div
      style={{
        position: "absolute",
        left: x,
        top: y,
        transform: "translate(-50%,-50%)",
        fontFamily: FONT,
        fontSize: size,
        color: "#111",
        whiteSpace: "nowrap",
      }}
    >
      {text}
    </div>
  );
}

export default function App() {
  return (
    <div style={{ position: "absolute", left: 0, top: 0, width: 3153, height: 2611, background: "#fff", overflow: "hidden" }}>
      <HeatPanel
        id="a"
        strips={[...panelABands, ...panelALeft]}
        rowCount={149}
        topRow={144}
        domain={[38, 3695]}
        xTicks={[55, 1186, 2352, 3553]}
        plot={{ left: 143, top: 28, width: 1261, height: 1043 }}
        dark={[1256, 2474]}
        gridStart={43}
        gridStep={152}
        gridRow={5}
        xMargin={48}
        yMargin={24}
      />
      <HeatPanel
        id="b"
        strips={panelBBands}
        rowCount={148}
        topRow={143}
        domain={[20, 1554]}
        xTicks={[26, 491, 968, 1460]}
        plot={{ left: 1547, top: 44, width: 1291, height: 1032 }}
        dark={[530, 1040]}
        dashed={[363]}
        gridStart={21}
        gridStep={63.5}
        gridRow={5}
        xMargin={49}
        yMargin={24}
      />
      <HeatPanel
        id="c"
        strips={[...panelCBands, ...panelCLeft]}
        rowCount={150}
        topRow={145}
        domain={[27, 3933]}
        xTicks={[27, 1197, 2409, 3663]}
        plot={{ left: 119, top: 1316, width: 1301, height: 1057 }}
        dark={[2634]}
        dashed={[1332]}
        gridStart={33}
        gridStep={162}
        gridRow={6}
        xMargin={49}
        yMargin={31}
      />
      <HeatPanel
        id="d"
        strips={[...panelDBands, ...panelDLeft]}
        rowCount={149}
        topRow={144}
        domain={[36, 3915]}
        xTicks={[36, 1188, 2409, 3657]}
        plot={{ left: 1572, top: 1322, width: 1293, height: 1047 }}
        dark={[1328, 2620]}
        gridStart={40}
        gridStep={161}
        gridRow={5}
        xMargin={49}
        yMargin={36}
      />
      <ColorBar left={3029} top={288} width={45} height={778} fontSize={40} />
      <ColorBar left={3057} top={1524} width={46} height={833} fontSize={44} />
      <Label x={3055} y={1130} size={47} text="Mpa" />
      <Label x={3085} y={2423} size={47} text="Mpa" />
      <Label x={921} y={1249} size={72} text="(a)" />
      <Label x={2192} y={1249} size={72} text="(b)" />
      <Label x={881} y={2548} size={72} text="(c)" />
      <Label x={2226} y={2548} size={72} text="(d)" />
    </div>
  );
}
